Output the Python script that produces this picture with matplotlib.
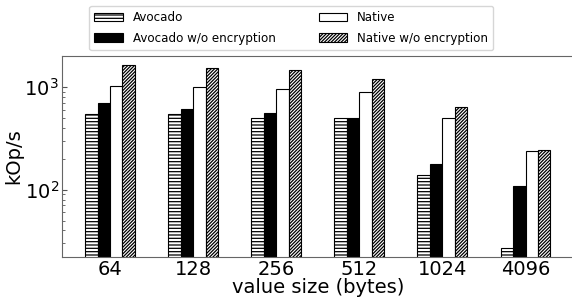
import numpy as np
import matplotlib.pyplot as plt

# --- data ---
sizes = ["64", "128", "256", "512", "1024", "4096"]
avocado = [542, 542, 499, 503, 138, 27]
avocado_noenc = [694, 607, 555, 503, 177, 108]
native = [1010, 1000, 957, 882, 503, 235]
native_noenc = [1616, 1531, 1445, 1181, 638, 245]

series = [
    ("Avocado", avocado, "white", "-----"),
    ("Avocado w/o encryption", avocado_noenc, "black", None),
    ("Native", native, "white", None),
    ("Native w/o encryption", native_noenc, "white", "//////////"),
]

plt.rcParams["hatch.linewidth"] = 0.9

fig = plt.figure(figsize=(5.72, 2.99), dpi=100)
ax = fig.add_axes([0.108, 0.140, 0.895, 0.673])

x = np.arange(len(sizes))
w = 0.15
for i, (name, vals, fc, hatch) in enumerate(series):
    ax.bar(x + (i - 1.5) * w, vals, w, color=fc, edgecolor="black",
           linewidth=0.8, hatch=hatch, label=name)

ax.set_yscale("log")
ax.set_ylim(22, 2000)
ax.set_xticks(x)
ax.set_xticklabels(sizes)
ax.tick_params(axis="x", length=0, labelsize=14, pad=2)
ax.tick_params(axis="y", which="both", direction="in", labelsize=14, pad=2,
               color="#555555")
ax.set_ylabel("kOp/s", fontsize=14, labelpad=1)
ax.set_xlabel("value size (bytes)", fontsize=14, labelpad=-1)
for s in ax.spines.values():
    s.set_color("#666666")

fig.legend(loc="upper center", bbox_to_anchor=(0.509, 1.0), ncol=2, fontsize=8.6,
           handlelength=2.4, columnspacing=3.6, labelspacing=0.6,
           borderpad=0.45, frameon=True)

fig.savefig("out.png", dpi=100)
